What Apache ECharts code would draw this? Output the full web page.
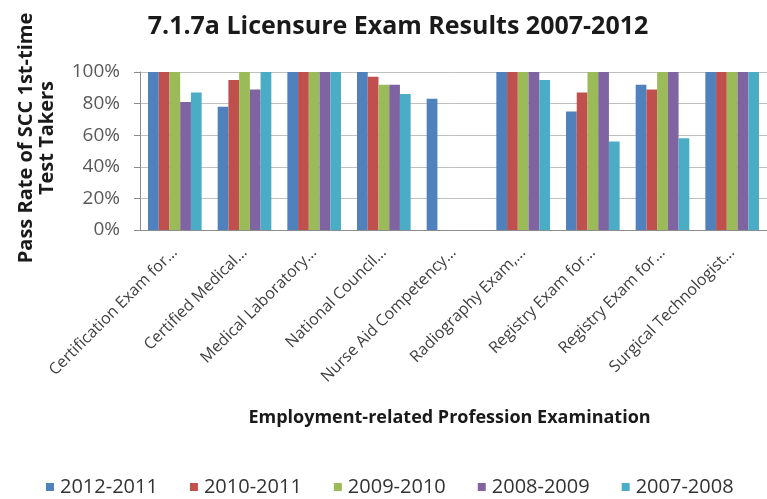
<!DOCTYPE html>
<html>
<head>
<meta charset="utf-8">
<title>7.1.7a Licensure Exam Results 2007-2012</title>
<script src="https://cdn.jsdelivr.net/npm/echarts@6/dist/echarts.min.js"></script>
<style>
  html, body { margin: 0; padding: 0; background: #ffffff; }
  #chart { width: 767px; height: 499px; }
</style>
</head>
<body>
<div id="chart"></div>
<script>
// Exam names (truncated as shown on the axis)
const categories = [
  'Certification Exam for…',
  'Certified Medical…',
  'Medical Laboratory…',
  'National Council…',
  'Nurse Aid Competency…',
  'Radiography Exam,…',
  'Registry Exam for…',
  'Registry Exam for…',
  'Surgical Technologist…'
];

// Pass rates (%) of first-time takers, one array per school year
const seriesNames = ['2012-2011', '2010-2011', '2009-2010', '2008-2009', '2007-2008'];
const rate2012_2011 = [100, 78, 100, 100, 83, 100, 75, 92, 100];
const rate2010_2011 = [100, 95, 100, 97, null, 100, 87, 89, 100];
const rate2009_2010 = [100, 100, 100, 92, null, 100, 100, 100, 100];
const rate2008_2009 = [81, 89, 100, 92, null, 100, 100, 100, 100];
const rate2007_2008 = [87, 100, 100, 86, null, 95, 56, 58, 100];

const yTicks = [0, 20, 40, 60, 80, 100];

const seriesValues = [rate2012_2011, rate2010_2011, rate2009_2010, rate2008_2009, rate2007_2008];
const palette = ['#4F81BD', '#C0504D', '#9BBB59', '#8064A2', '#4BACC6'];
const FONT = '"Open Sans", sans-serif';

const chart = echarts.init(document.getElementById('chart'), null, { renderer: 'canvas' });

chart.setOption({
  animation: false,
  backgroundColor: '#ffffff',
  color: palette,
  textStyle: { fontFamily: FONT },
  title: {
    text: '7.1.7a Licensure Exam Results 2007-2012',
    left: 393,
    textAlign: 'center',
    top: 9,
    textStyle: { fontFamily: FONT, fontSize: 25, fontWeight: 'bold', color: '#1a1a1a' }
  },
  legend: {
    data: seriesNames,
    top: 472,
    left: 41,
    icon: 'rect',
    itemWidth: 8,
    itemHeight: 8,
    itemGap: 32,
    textStyle: { fontFamily: FONT, fontSize: 20, color: '#333333', padding: [0, 0, 0, 1] }
  },
  grid: { left: 140, top: 72, width: 629, height: 158, containLabel: false },
  xAxis: {
    type: 'category',
    data: categories,
    name: 'Employment-related Profession Examination',
    nameLocation: 'middle',
    nameGap: 179,
    nameTextStyle: { fontFamily: FONT, fontSize: 18, fontWeight: 'bold', color: '#1a1a1a', padding: [0, 8, 0, 0] },
    axisLine: { show: true, lineStyle: { color: '#8c8c8c', width: 1 } },
    axisTick: { show: false },
    axisLabel: {
      interval: 0,
      rotate: 45,
      margin: 20,
      fontFamily: FONT,
      fontSize: 16,
      color: '#404040'
    }
  },
  yAxis: {
    type: 'value',
    min: yTicks[0],
    max: yTicks[yTicks.length - 1],
    interval: 20,
    name: 'Pass Rate of SCC 1st-time\nTest Takers',
    nameLocation: 'middle',
    nameRotate: 90,
    nameGap: 82,
    nameTextStyle: {
      fontFamily: FONT, fontSize: 20, fontWeight: 'bold', color: '#1a1a1a',
      lineHeight: 21, padding: [0, 0, 0, 26]
    },
    axisLine: { show: true, lineStyle: { color: '#8c8c8c', width: 1 } },
    axisTick: { show: true, inside: false, length: 6, lineStyle: { color: '#8c8c8c' } },
    axisLabel: {
      margin: 20,
      fontFamily: FONT,
      fontSize: 19,
      color: '#595959',
      formatter: v => v + '%'
    },
    splitLine: { show: true, lineStyle: { color: '#bfbfbf', width: 1 } }
  },
  series: seriesNames.map((name, i) => ({
    name,
    type: 'bar',
    data: seriesValues[i],
    barGap: '0%',
    barCategoryGap: '23%',
    itemStyle: { color: palette[i] }
  }))
});
</script>
</body>
</html>
